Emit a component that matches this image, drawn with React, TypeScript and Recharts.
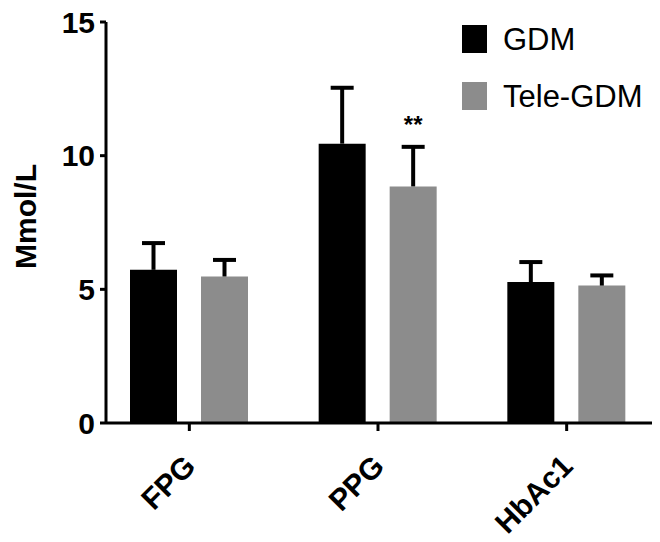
import React from 'react';
import { BarChart, Bar, XAxis, YAxis, ErrorBar, Legend, LabelList } from 'recharts';

const categories = ['FPG', 'PPG', 'HbAc1'];
const gdmValues = [5.73, 10.45, 5.27];
const gdmErrors = [1.0, 2.09, 0.75];
const teleValues = [5.48, 8.85, 5.14];
const teleErrors = [0.62, 1.48, 0.38];
const teleSig = ['', '**', ''];
const yTicks = [0, 5, 10, 15];

const data = categories.map((c, i) => ({
  name: c,
  gdm: gdmValues[i],
  gdmErr: [0, gdmErrors[i]],
  tele: teleValues[i],
  teleErr: [0, teleErrors[i]],
  sig: teleSig[i],
}));

const FONT = '"Liberation Sans", Arial, Helvetica, sans-serif';

const XTick = (props: any) => {
  const { x, y, payload } = props;
  const bx = x + 8;
  const by = y + 35;
  return (
    <text
      x={bx}
      y={by}
      transform={`rotate(-45, ${bx}, ${by})`}
      textAnchor="end"
      fontFamily={FONT}
      fontWeight="bold"
      fontSize={30}
      fill="#000"
    >
      {payload.value}
    </text>
  );
};

const YLabel = (props: any) => {
  const vb = props.viewBox || {};
  const cx = 36;
  const cy = (vb.y ?? 22) + (vb.height ?? 400) / 2 - 6;
  return (
    <text
      x={cx}
      y={cy}
      transform={`rotate(-90, ${cx}, ${cy})`}
      textAnchor="middle"
      fontFamily={FONT}
      fontWeight="bold"
      fontSize={30}
      fill="#000"
    >
      Mmol/L
    </text>
  );
};

const SigLabel = (props: any) => {
  const { x, y, width, value } = props;
  if (!value) return null;
  return (
    <text
      x={x + width / 2}
      y={y - 53}
      textAnchor="middle"
      fontFamily={FONT}
      fontWeight="bold"
      fontSize={24}
      fill="#000"
    >
      {value}
    </text>
  );
};

const LegendContent = (props: any) => {
  const { payload = [] } = props;
  return (
    <svg width={220} height={110}>
      {payload.map((p: any, i: number) => (
        <g key={i}>
          <rect x={22} y={15 + i * 57} width={25} height={28} fill={p.color} />
          <text x={63} y={40 + i * 57} fontFamily={FONT} fontSize={31} fill="#000">
            {p.value}
          </text>
        </g>
      ))}
    </svg>
  );
};

export default function App() {
  return (
    <div style={{ position: 'absolute', left: 0, top: 0, background: '#fff' }}>
      <style>{`.recharts-errorBar line:nth-of-type(3){display:none;}`}</style>
      <BarChart
        width={660}
        height={542}
        data={data}
        margin={{ top: 22, right: 8, bottom: 0, left: 0 }}
        barSize={47}
        barGap={24}
      >
        <XAxis
          dataKey="name"
          padding={{ left: -11, right: -9 }}
          axisLine={{ stroke: '#000', strokeWidth: 3 }}
          tickLine={{ stroke: '#000', strokeWidth: 3 }}
          tickSize={8}
          tickMargin={2}
          tick={<XTick />}
          interval={0}
          height={119}
        />
        <YAxis
          width={106}
          domain={[0, 15]}
          ticks={yTicks}
          allowDataOverflow
          axisLine={{ stroke: '#000', strokeWidth: 3 }}
          tickLine={{ stroke: '#000', strokeWidth: 3 }}
          tickSize={6}
          tickMargin={5}
          tick={{ fontFamily: FONT, fontWeight: 'bold', fontSize: 30, fill: '#000' }}
          label={<YLabel />}
        />
        <Legend
          layout="vertical"
          align="center"
          verticalAlign="middle"
          wrapperStyle={{ left: 440, top: 10, width: 220, height: 110 }}
          content={<LegendContent />}
        />
        <Bar dataKey="gdm" name="GDM" fill="#000000" isAnimationActive={false}>
          <ErrorBar dataKey="gdmErr" width={11.5} stroke="#000" strokeWidth={4} direction="y" isAnimationActive={false} />
        </Bar>
        <Bar dataKey="tele" name="Tele-GDM" fill="#8c8c8c" isAnimationActive={false}>
          <ErrorBar dataKey="teleErr" width={11.5} stroke="#000" strokeWidth={4} direction="y" isAnimationActive={false} />
          <LabelList dataKey="sig" content={<SigLabel />} />
        </Bar>
      </BarChart>
    </div>
  );
}
